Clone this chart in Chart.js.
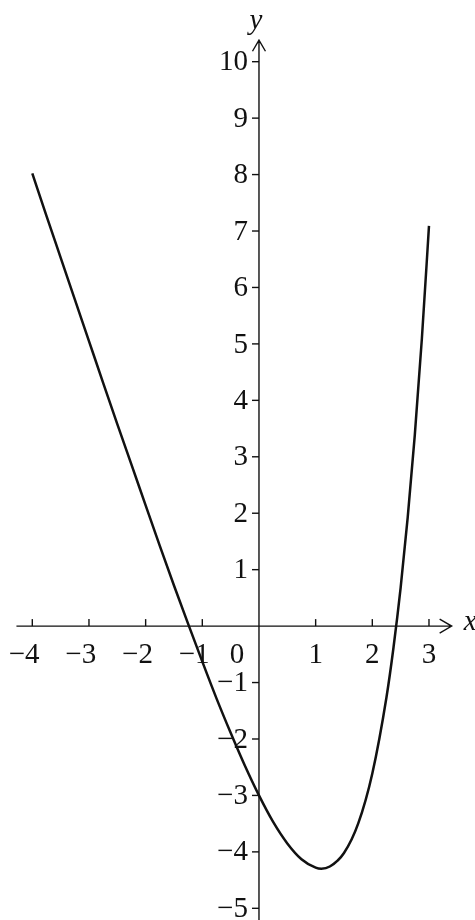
<!DOCTYPE html>
<html>
<head>
<meta charset="utf-8">
<script src="https://cdn.jsdelivr.net/npm/chart.js@4.4.1/dist/chart.umd.min.js"></script>
<style>
  html, body { margin: 0; padding: 0; background: #fff; overflow: hidden; }
  #wrap { position: relative; width: 475px; height: 920px; }
</style>
</head>
<body>
<div id="wrap"><canvas id="graph"></canvas></div>
<script>
// curve samples
const xValues = [-4, -3.75, -3.5, -3.25, -3, -2.75, -2.5, -2.25, -2, -1.75, -1.5, -1.25, -1, -0.75, -0.5, -0.25,
    0, 0.25, 0.5, 0.75, 1, 1.1, 1.25, 1.5, 1.75, 2, 2.25, 2.375, 2.5, 2.625, 2.75, 2.875, 3];
const yValues = [8.02, 7.27, 6.53, 5.79, 5.05, 4.31, 3.58, 2.86, 2.14, 1.42, 0.72, 0.04, -0.63, -1.28, -1.89, -2.47,
    -3, -3.47, -3.85, -4.13, -4.28, -4.30, -4.26, -4.02, -3.50, -2.61, -1.26, -0.37, 0.68, 1.93, 3.39, 5.10, 7.09];

const xTicks = [-4, -3, -2, -1, 0, 1, 2, 3];
const yTicks = [10, 9, 8, 7, 6, 5, 4, 3, 2, 1, -1, -2, -3, -4, -5];

const FONT = '"Liberation Serif", "DejaVu Serif", serif';
const INK = '#111';

// draws the cross-shaped axes with arrows, ticks and labels
const axesPlugin = {
    id: 'axes',
    beforeDatasetsDraw(chart) {
        const ctx = chart.ctx;
        const xs = chart.scales.x;
        const ys = chart.scales.y;
        const x0 = xs.getPixelForValue(0);
        const y0 = ys.getPixelForValue(0);

        ctx.save();
        ctx.strokeStyle = INK;
        ctx.fillStyle = INK;
        ctx.lineWidth = 1.4;

        // x axis
        const xl = xs.getPixelForValue(-4.28);
        const xr = xs.getPixelForValue(3.4);
        ctx.beginPath();
        ctx.moveTo(xl, y0);
        ctx.lineTo(xr, y0);
        ctx.moveTo(xr - 12, y0 - 7);
        ctx.lineTo(xr, y0);
        ctx.lineTo(xr - 12, y0 + 7);
        ctx.stroke();

        // y axis
        const yt = ys.getPixelForValue(10.38);
        const yb = ys.getPixelForValue(ys.min);
        ctx.beginPath();
        ctx.moveTo(x0, yb);
        ctx.lineTo(x0, yt);
        ctx.moveTo(x0 - 6.5, yt + 11);
        ctx.lineTo(x0, yt);
        ctx.lineTo(x0 + 6.5, yt + 11);
        ctx.stroke();

        // x ticks + labels
        ctx.font = '29px ' + FONT;
        ctx.textBaseline = 'middle';
        xTicks.forEach(v => {
            const px = xs.getPixelForValue(v);
            if (v !== 0) {
                ctx.beginPath();
                ctx.moveTo(px, y0);
                ctx.lineTo(px, y0 - 7);
                ctx.stroke();
            }
            const digits = String(Math.abs(v));
            const dw = ctx.measureText(digits).width;
            const label = v < 0 ? '\u2212' + digits : digits;
            ctx.textAlign = 'right';
            const cx = v === 0 ? x0 - 22 : px;
            ctx.fillText(label, cx + dw / 2, y0 + 29);
        });

        // y ticks + labels
        yTicks.forEach(v => {
            const py = ys.getPixelForValue(v);
            ctx.beginPath();
            ctx.moveTo(x0, py);
            ctx.lineTo(x0 - 7, py);
            ctx.stroke();
            const label = v < 0 ? '\u2212' + Math.abs(v) : String(v);
            ctx.textAlign = 'right';
            ctx.fillText(label, x0 - 11, py + 1);
        });

        // axis names
        ctx.font = 'italic 29px ' + FONT;
        ctx.textAlign = 'center';
        ctx.textBaseline = 'alphabetic';
        ctx.fillText('y', x0 - 3, yt - 11);
        ctx.textAlign = 'left';
        ctx.fillText('x', xr + 12, y0 + 4);

        ctx.restore();
    }
};

function drawGraph() {
    const points = xValues.map((x, i) => ({ x: x, y: yValues[i] }));
    new Chart(document.getElementById('graph'), {
        type: 'scatter',
        data: {
            datasets: [{
                data: points,
                showLine: true,
                borderColor: INK,
                borderWidth: 2.5,
                pointRadius: 0,
                cubicInterpolationMode: 'monotone'
            }]
        },
        options: {
            responsive: true,
            maintainAspectRatio: false,
            animation: false,
            layout: { padding: 0 },
            plugins: {
                legend: { display: false },
                tooltip: { enabled: false }
            },
            scales: {
                x: { type: 'linear', min: -4.57, max: 3.812, display: false },
                y: { type: 'linear', min: -5.207, max: 11.093, display: false }
            }
        },
        plugins: [axesPlugin]
    });
}

document.addEventListener('DOMContentLoaded', drawGraph);
</script>
</body>
</html>
